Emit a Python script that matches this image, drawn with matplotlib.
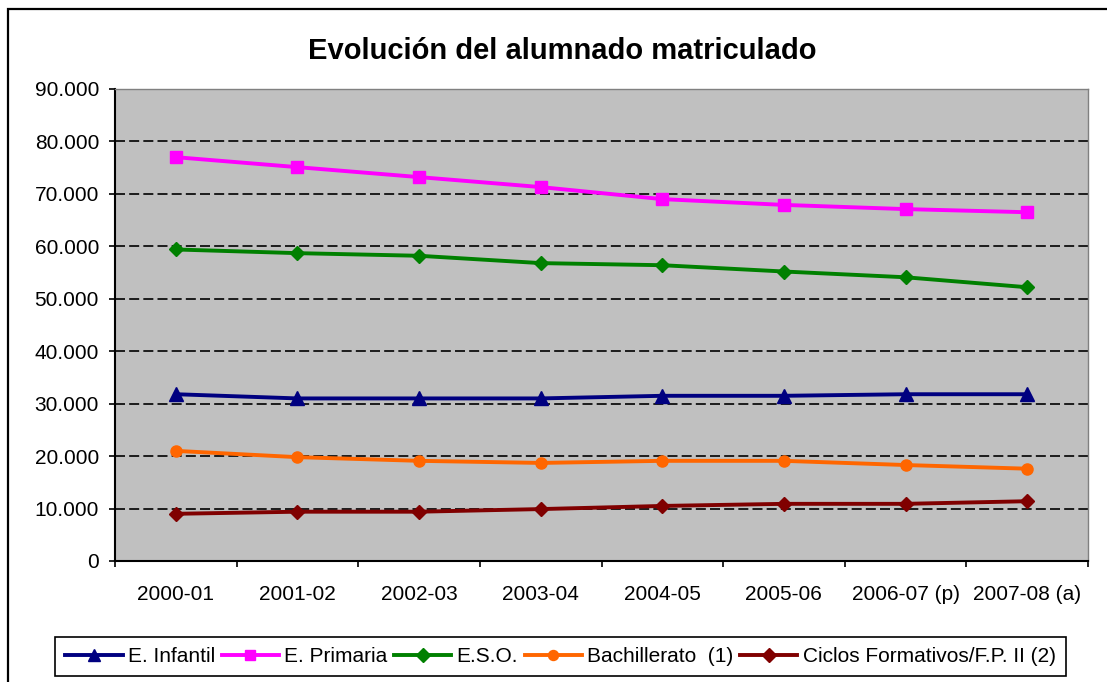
import matplotlib
matplotlib.use("Agg")
import matplotlib.pyplot as plt
import numpy as np
from matplotlib.patches import Rectangle
from matplotlib.ticker import FuncFormatter, FixedLocator

plt.rcParams['font.family'] = ['Liberation Sans', 'DejaVu Sans']

categories = ["2000-01", "2001-02", "2002-03", "2003-04", "2004-05",
              "2005-06", "2006-07 (p)", "2007-08 (a)"]
infantil = [31800, 31000, 31000, 31000, 31500, 31500, 31800, 31800]
primaria = [77000, 75100, 73200, 71300, 69000, 67900, 67100, 66500]
eso = [59400, 58700, 58200, 56800, 56400, 55200, 54100, 52200]
bachillerato = [21000, 19800, 19100, 18700, 19100, 19100, 18300, 17600]
ciclos = [9000, 9400, 9400, 9900, 10500, 10900, 10900, 11400]
series_names = ["E. Infantil", "E. Primaria", "E.S.O.", "Bachillerato  (1)",
                "Ciclos Formativos/F.P. II (2)"]
yticks = list(range(0, 90001, 10000))

W, H = 1107, 682
fig = plt.figure(figsize=(W / 100, H / 100), dpi=100)
ax = fig.add_axes([115 / W, 1 - 561 / H, (1088 - 115) / W, (561 - 89) / H])
ax.set_facecolor("#C0C0C0")

x = np.arange(len(categories))
styles = [
    (infantil, "#000080", "^", 9.5),
    (primaria, "#FF00FF", "s", 8.5),
    (eso, "#008000", "D", 7.5),
    (bachillerato, "#FF6600", "o", 8.0),
    (ciclos, "#800000", "D", 7.5),
]
handles = []
for (vals, col, mk, ms), name in zip(styles, series_names):
    h, = ax.plot(x, vals, color=col, marker=mk, markersize=ms, linewidth=2.8,
                 markeredgecolor=col, label=name, zorder=3, clip_on=False)
    handles.append(h)

ax.set_xlim(-0.5, len(categories) - 0.5)
ax.set_ylim(0, 90000)
ax.set_yticks(yticks)
ax.yaxis.set_major_formatter(FuncFormatter(lambda v, p: f"{int(v):,}".replace(",", ".")))
for yv in yticks[1:]:
    ax.axhline(yv, color="black", linewidth=1.2, linestyle=(0, (6, 2.5)), zorder=1)

ax.set_xticks(x)
ax.set_xticklabels(categories)
ax.xaxis.set_minor_locator(FixedLocator(np.arange(-0.5, len(categories), 1.0)))
ax.tick_params(axis="x", which="major", length=0, pad=17, labelsize=15)
ax.tick_params(axis="x", which="minor", length=4.5, width=1.2, direction="out", color="black")
ax.tick_params(axis="y", which="major", length=4.5, width=1.2, direction="out", pad=7, labelsize=15)

for s in ["left", "bottom"]:
    ax.spines[s].set_color("black")
    ax.spines[s].set_linewidth(1.5)
for s in ["top", "right"]:
    ax.spines[s].set_color("#808080")
    ax.spines[s].set_linewidth(1.0)

fig.text(562 / W, 1 - 51 / H, "Evolución del alumnado matriculado", ha="center", va="center",
         fontsize=21, fontweight="bold")

leg = fig.legend(handles=handles, loc="center", bbox_to_anchor=(560.5 / W, 1 - 656.5 / H),
                 ncol=5, fontsize=15, frameon=True, fancybox=False, shadow=False,
                 handlelength=2.75, handletextpad=0.25, columnspacing=0.32, borderpad=0.5,
                 borderaxespad=0, markerscale=0.9)
leg.get_frame().set_edgecolor("black")
leg.get_frame().set_linewidth(1.2)
leg.get_frame().set_facecolor("white")
leg.get_frame().set_alpha(1)

fig.patches.append(Rectangle((8 / W, -0.05), 1.2, 1 - 9 / H + 0.05, transform=fig.transFigure,
                             fill=False, edgecolor="black", linewidth=1.6, zorder=0))

fig.savefig("out.png", dpi=100)
